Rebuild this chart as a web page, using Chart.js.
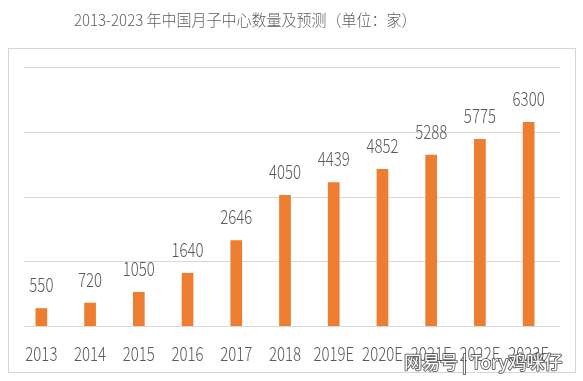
<!DOCTYPE html>
<html>
<head>
<meta charset="utf-8">
<script src="https://cdn.jsdelivr.net/npm/chart.js@4/dist/chart.umd.min.js"></script>
<style>
  html, body { margin: 0; padding: 0; background: #ffffff; }
  #wrap { position: relative; width: 583px; height: 381px; }
</style>
</head>
<body>
<div id="wrap"><canvas id="c" width="583" height="381"></canvas></div>
<script>
const titleText = "2013-2023 年中国月子中心数量及预测（单位：家）";
const categories = ["2013", "2014", "2015", "2016", "2017", "2018", "2019E", "2020E", "2021E", "2022E", "2023E"];
const centerCounts = [550, 720, 1050, 1640, 2646, 4050, 4439, 4852, 5288, 5775, 6300];
const gridTicks = [0, 2000, 4000, 6000, 8000];
const watermarkText = "网易号 | Tory鸡咪仔";

const LABEL_FONT = "300 15px 'Noto Sans CJK SC', sans-serif";
const TEXT_COLOR = "#595959";
const STRETCH_Y = 1.26;

function stretchedText(ctx, text, x, y) {
  ctx.save();
  ctx.translate(x, y);
  ctx.scale(1, STRETCH_Y);
  ctx.fillText(text, 0, 0);
  ctx.restore();
}

const decorPlugin = {
  id: "decor",
  beforeDraw(chart) {
    const ctx = chart.ctx;
    ctx.save();
    ctx.fillStyle = "#ffffff";
    ctx.fillRect(0, 0, chart.width, chart.height);
    ctx.strokeStyle = "#d6d6d6";
    ctx.lineWidth = 1;
    ctx.strokeRect(8.5, 48.5, 567, 324);
    ctx.fillStyle = "#5e5e5e";
    ctx.font = "300 15px 'Noto Sans CJK SC', sans-serif";
    ctx.textBaseline = "alphabetic";
    ctx.textAlign = "left";
    stretchedTitle(ctx);
    ctx.restore();
  },
  beforeDatasetsDraw(chart) {
    const ctx = chart.ctx;
    const y = chart.scales.y;
    ctx.save();
    ctx.strokeStyle = "#d9d9d9";
    ctx.lineWidth = 1.2;
    gridTicks.forEach(v => {
      const py = Math.round(y.getPixelForValue(v)) + 0.5;
      ctx.beginPath();
      ctx.moveTo(24, py);
      ctx.lineTo(560, py);
      ctx.stroke();
    });
    ctx.restore();
  },
  afterDatasetsDraw(chart) {
    const ctx = chart.ctx;
    const meta = chart.getDatasetMeta(0);
    const x = chart.scales.x;
    ctx.save();
    ctx.fillStyle = TEXT_COLOR;
    ctx.font = LABEL_FONT;
    ctx.textAlign = "center";
    ctx.textBaseline = "alphabetic";
    meta.data.forEach((bar, i) => {
      stretchedText(ctx, String(centerCounts[i]), bar.x, bar.y - 16);
    });
    categories.forEach((lab, i) => {
      stretchedText(ctx, lab, x.getPixelForTick(i), 361);
    });
    ctx.restore();
  },
  afterDraw(chart) {
    const ctx = chart.ctx;
    ctx.save();
    ctx.font = "18px 'Noto Sans CJK SC', sans-serif";
    ctx.textAlign = "left";
    ctx.textBaseline = "alphabetic";
    ctx.lineWidth = 2;
    ctx.strokeStyle = "rgba(70,70,70,0.8)";
    ctx.lineJoin = "round";
    ctx.strokeText(watermarkText, 404, 369);
    ctx.fillStyle = "#ffffff";
    ctx.fillText(watermarkText, 404, 369);
    ctx.restore();
  }
};

function stretchedTitle(ctx) {
  ctx.save();
  ctx.translate(74, 26);
  ctx.scale(1, 1.08);
  ctx.fillText(titleText, 0, 0);
  ctx.restore();
}

new Chart(document.getElementById("c"), {
  type: "bar",
  data: {
    labels: categories,
    datasets: [{
      data: centerCounts,
      backgroundColor: "#ED7D31",
      borderWidth: 0,
      barPercentage: 0.24,
      categoryPercentage: 1.0
    }]
  },
  options: {
    responsive: false,
    animation: false,
    layout: { padding: { left: 17, right: 30, top: 67, bottom: 0 } },
    plugins: {
      legend: { display: false },
      tooltip: { enabled: false },
      title: { display: false }
    },
    scales: {
      x: {
        grid: { display: false },
        border: { display: false },
        ticks: { display: false },
        afterFit(scale) { scale.height = 55; }
      },
      y: {
        display: false,
        min: 0,
        max: 8000,
        afterFit(scale) { scale.width = 0; }
      }
    }
  },
  plugins: [decorPlugin]
});
</script>
</body>
</html>
